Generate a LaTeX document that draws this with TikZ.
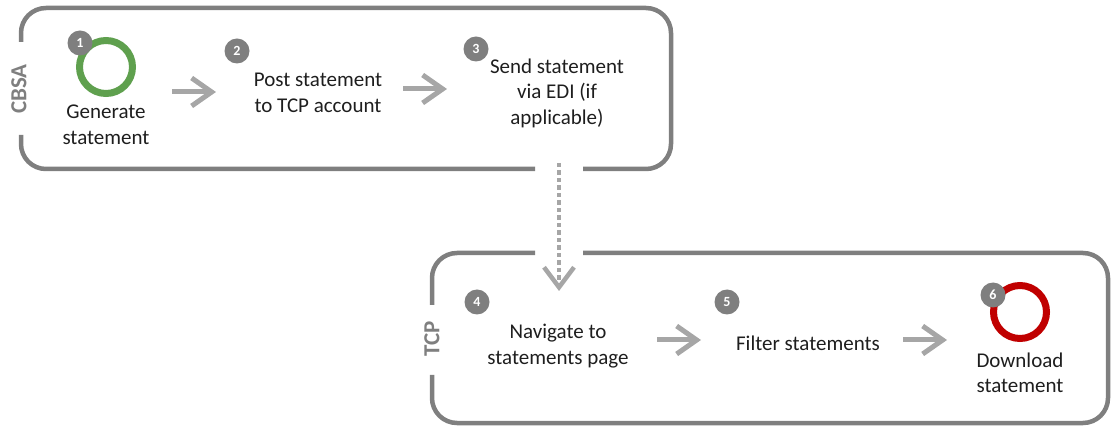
\documentclass[tikz,border=0pt]{standalone}
\usepackage{fontspec}
\setmainfont{Carlito}
\usetikzlibrary{arrows.meta}
\definecolor{boxgray}{HTML}{7F7F7F}
\definecolor{arrgray}{HTML}{A6A6A6}
\definecolor{txt}{HTML}{1E1E1E}
\definecolor{ringgreen}{HTML}{5FA04E}
\definecolor{ringred}{HTML}{C00000}
\tikzset{
  lane/.style={draw=boxgray, line width=4.5pt, rounded corners=25pt},
  lanelabel/.style={rotate=90, text=boxgray, inner sep=0pt, font=\fontsize{23}{25}\selectfont\bfseries},
  steptext/.style={align=center, inner sep=0pt, text=txt, font=\fontsize{21}{25.5}\selectfont},
  badge/.style={circle, fill=boxgray, minimum size=25pt, inner sep=0pt, text=white, font=\fontsize{14}{14}\selectfont\bfseries},
  ring/.style={circle, draw=#1, line width=7pt, minimum size=53pt, inner sep=0pt},
  flow/.style={draw=arrgray, line width=5pt, -{Straight Barb[length=20pt, width=28pt]}},
  dotflow/.style={draw=arrgray, line width=4.5pt, dash pattern=on 4.5pt off 3pt, -{Straight Barb[length=20pt, width=30pt]}}
}
\begin{document}
\begin{tikzpicture}[x=1pt,y=-1pt]
\useasboundingbox (0,0) rectangle (1111,427);
% lanes
\draw[lane] (21,42) -- (21,8) -- (671,8) -- (671,169) -- (583,169);
\draw[lane] (535,169) -- (21,169) -- (21,135);
\draw[lane] (583,253) -- (1108,253) -- (1108,423) -- (432,423) -- (432,375);
\draw[lane] (432,305) -- (432,253) -- (535,253);
\node[lanelabel] (lcbsa) at (19,89) {CBSA};
\node[lanelabel] (ltcp) at (432,339) {TCP};
% steps
\node[ring=ringgreen] (c1) at (106,67) {};
\node[badge] (b1) at (80,43) {1};
\node[steptext] (t1) at (106,125) {Generate\\statement};
\node[badge] (b2) at (237,51) {2};
\node[steptext] (t2) at (318,93) {Post statement\\to TCP account};
\node[badge] (b3) at (476,49) {3};
\node[steptext] (t3) at (557,93) {Send statement\\via EDI (if\\applicable)};
\node[badge] (b4) at (477,302) {4};
\node[steptext] (t4) at (558,346) {Navigate to\\statements page};
\node[badge] (b5) at (727,302) {5};
\node[steptext] (t5) at (808,343) {Filter statements};
\node[ring=ringred] (c6) at (1020,312) {};
\node[badge] (b6) at (993,295) {6};
\node[steptext] (t6) at (1020,373) {Download\\statement};
% connectors
\coordinate (a1s) at (172,92); \coordinate (a1e) at (216,92);
\coordinate (a2s) at (403,89); \coordinate (a2e) at (447,89);
\coordinate (a4s) at (657,340); \coordinate (a4e) at (701,340);
\coordinate (a5s) at (903,340); \coordinate (a5e) at (947,340);
\coordinate (ds) at (559,163); \coordinate (de) at (559,291);
\draw[flow] (a1s) -- (a1e);
\draw[flow] (a2s) -- (a2e);
\draw[flow] (a4s) -- (a4e);
\draw[flow] (a5s) -- (a5e);
\draw[dotflow] (ds) -- (de);
\end{tikzpicture}
\end{document}
